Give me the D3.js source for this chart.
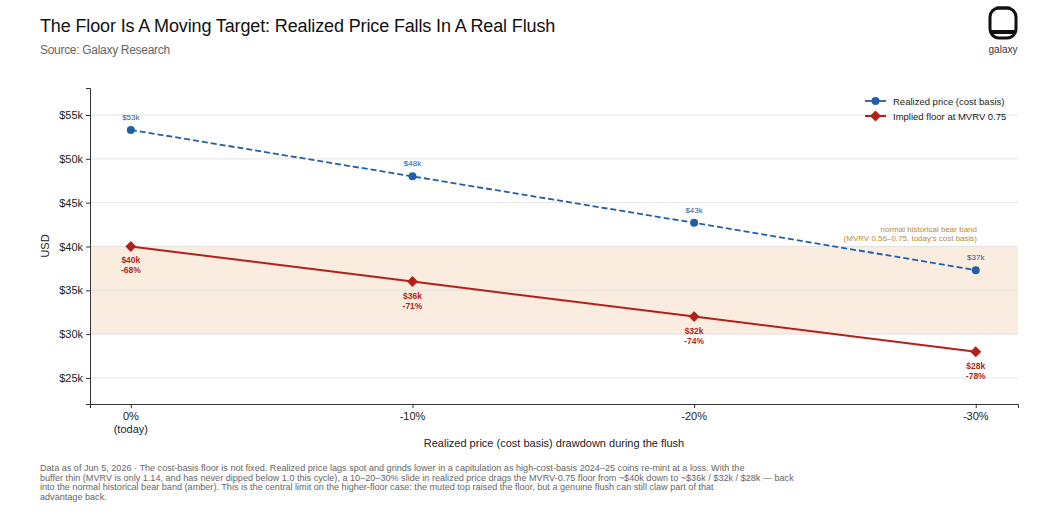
<!DOCTYPE html><html><head><meta charset="utf-8"><script src="https://d3js.org/d3.v7.min.js"></script>
<style>body{margin:0;background:#fff}text{font-family:"Liberation Sans",Arial,sans-serif}</style></head><body><svg id="c" width="1045" height="515"></svg>
<script>
const categories=["0%\n(today)","-10%","-20%","-30%"];
const realized=[53.3,48.0,42.7,37.3];
const realizedLabels=["$53k","$48k","$43k","$37k"];
const floorVals=[40,36,32,28];
const floorLabels=["$40k","$36k","$32k","$28k"];
const floorPct=["-68%","-71%","-74%","-78%"];
const yTicks=[25,30,35,40,45,50,55];
const band=[30,40];
const svg=d3.select("#c");
const L=90,R=1018,T=88,B=404;
const x=d3.scaleLinear().domain([-0.145,3.15]).range([L,R]);
const y=d3.scaleLinear().domain([22.03,58.08]).range([B,T]);
svg.append("rect").attr("x",L).attr("width",R-L).attr("y",y(band[1])).attr("height",y(band[0])-y(band[1])).attr("fill","#f9eadb").attr("opacity",0.85);
svg.append("g").selectAll("line").data(yTicks).join("line").attr("x1",L).attr("x2",R).attr("y1",d=>y(d)).attr("y2",d=>y(d)).attr("stroke","#dddddd").attr("stroke-width",0.8);
const ya=svg.append("g").attr("transform",`translate(${L},0)`).call(d3.axisLeft(y).tickValues(yTicks).tickFormat(d=>"$"+d+"k").tickSize(4));
const xa=svg.append("g").attr("transform",`translate(0,${B})`).call(d3.axisBottom(x).tickValues([0,1,2,3]).tickFormat(()=>"").tickSize(4));
[ya,xa].forEach(a=>{a.select(".domain").attr("stroke","#333");a.selectAll("line").attr("stroke","#333");a.selectAll("text").attr("font-size",11).attr("fill","#222");});
categories.forEach((c,i)=>{const t=svg.append("text").attr("x",x(i)).attr("y",B+16).attr("text-anchor","middle").attr("font-size",11).attr("fill","#222");
c.split("\n").forEach((s,j)=>t.append("tspan").attr("x",x(i)).attr("dy",j?13:0).text(s));});
svg.append("text").attr("x",(L+R)/2).attr("y",447).attr("text-anchor","middle").attr("font-size",11).attr("fill","#222").text("Realized price (cost basis) drawdown during the flush");
svg.append("text").attr("transform",`translate(49,${(T+B)/2}) rotate(-90)`).attr("text-anchor","middle").attr("font-size",11).attr("fill","#222").text("USD");
svg.append("text").attr("x",977).attr("y",232).attr("text-anchor","end").attr("font-size",8).attr("fill","#b8893a").text("normal historical bear band");
svg.append("text").attr("x",977).attr("y",241).attr("text-anchor","end").attr("font-size",8).attr("fill","#b8893a").text("(MVRV 0.56–0.75, today's cost basis)");
const line=d3.line().x((d,i)=>x(i)).y(d=>y(d));
const blue="#2160a8",red="#b51f1a";
svg.append("path").datum(realized).attr("d",line).attr("fill","none").attr("stroke",blue).attr("stroke-width",1.8).attr("stroke-dasharray","6,3");
svg.append("path").datum(floorVals).attr("d",line).attr("fill","none").attr("stroke",red).attr("stroke-width",2);
svg.selectAll(".bp").data(realized).join("circle").attr("cx",(d,i)=>x(i)).attr("cy",d=>y(d)).attr("r",4).attr("fill",blue);
const dia=d3.symbol().type(d3.symbolSquare).size(60);
svg.selectAll(".rp").data(floorVals).join("path").attr("d",dia).attr("transform",(d,i)=>`translate(${x(i)},${y(d)}) rotate(45)`).attr("fill",red);
realized.forEach((d,i)=>svg.append("text").attr("x",x(i)).attr("y",y(d)-10).attr("text-anchor","middle").attr("font-size",8).attr("fill",blue).text(realizedLabels[i]));
floorVals.forEach((d,i)=>{svg.append("text").attr("x",x(i)).attr("y",y(d)+17).attr("text-anchor","middle").attr("font-size",8.5).attr("font-weight","bold").attr("fill",red).text(floorLabels[i]);
svg.append("text").attr("x",x(i)).attr("y",y(d)+27).attr("text-anchor","middle").attr("font-size",8.5).attr("font-weight","bold").attr("fill",red).text(floorPct[i]);});
const lg=svg.append("g");
lg.append("line").attr("x1",865).attr("x2",886).attr("y1",101).attr("y2",101).attr("stroke",blue).attr("stroke-width",1.8);
lg.append("circle").attr("cx",875.5).attr("cy",101).attr("r",4).attr("fill",blue);
lg.append("text").attr("x",893).attr("y",104.5).attr("font-size",9.5).attr("fill","#222").text("Realized price (cost basis)");
lg.append("line").attr("x1",865).attr("x2",886).attr("y1",116).attr("y2",116).attr("stroke",red).attr("stroke-width",2);
lg.append("path").attr("d",dia).attr("transform","translate(875.5,116) rotate(45)").attr("fill",red);
lg.append("text").attr("x",893).attr("y",119.5).attr("font-size",9.5).attr("fill","#222").text("Implied floor at MVRV 0.75");
svg.append("text").attr("x",40).attr("y",32).attr("font-size",18).attr("fill","#111").attr("letter-spacing","-0.3").attr("textLength",515).text("The Floor Is A Moving Target: Realized Price Falls In A Real Flush");
svg.append("text").attr("x",40).attr("y",54).attr("font-size",12).attr("fill","#666").attr("letter-spacing","-0.3").text("Source: Galaxy Research");
svg.append("rect").attr("x",990).attr("y",8).attr("width",26).attr("height",30).attr("rx",9).attr("fill","none").attr("stroke","#111").attr("stroke-width",3);
svg.append("rect").attr("x",990).attr("y",30).attr("width",26).attr("height",4).attr("fill","#111");
svg.append("rect").attr("x",996).attr("y",6.5).attr("width",14).attr("height",3).attr("fill","#111");
svg.append("text").attr("x",1003).attr("y",53).attr("text-anchor","middle").attr("font-size",10).attr("fill","#333").text("galaxy");
const foot=["Data as of Jun 5, 2026 · The cost-basis floor is not fixed. Realized price lags spot and grinds lower in a capitulation as high-cost-basis 2024–25 coins re-mint at a loss. With the",
"buffer thin (MVRV is only 1.14, and has never dipped below 1.0 this cycle), a 10–20–30% slide in realized price drags the MVRV-0.75 floor from ~$40k down to ~$36k / $32k / $28k — back",
"into the normal historical bear band (amber). This is the central limit on the higher-floor case: the muted top raised the floor, but a genuine flush can still claw part of that",
"advantage back."];
foot.forEach((s,i)=>svg.append("text").attr("x",40).attr("y",471+i*9.6).attr("font-size",9.1).attr("fill","#666").text(s));
</script></body></html>
